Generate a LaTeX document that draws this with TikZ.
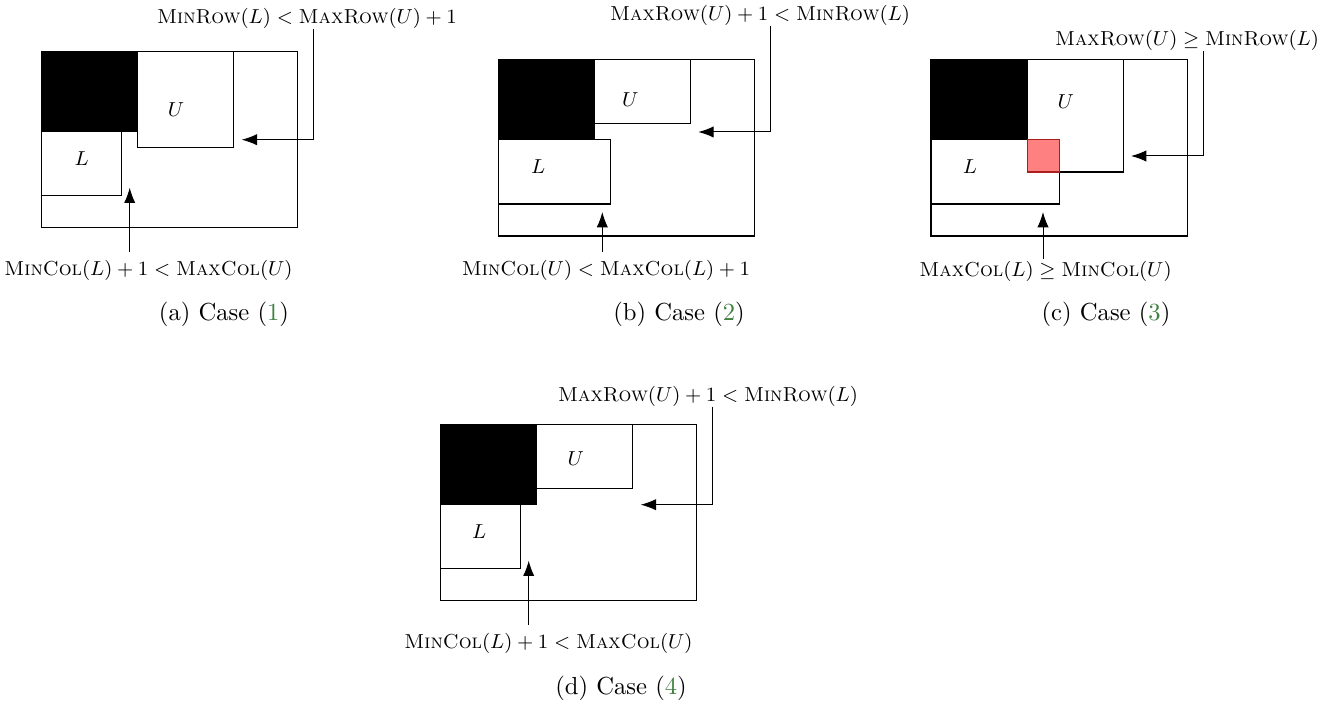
\documentclass[tikz,border=0pt]{standalone}
\usetikzlibrary{arrows.meta}
\definecolor{caseGreen}{RGB}{64,128,64}
\definecolor{hotFill}{RGB}{255,128,128}
\definecolor{hotDraw}{RGB}{170,30,30}
\begin{document}
\begin{tikzpicture}[x=0.015625cm,y=-0.015625cm,
  box/.style={draw=black, line width=0.45pt},
  blk/.style={fill=black, draw=black, line width=0.45pt},
  hot/.style={fill=hotFill, draw=hotDraw, line width=0.45pt},
  lbl/.style={font=\fontsize{9}{11}\selectfont, inner sep=0pt},
  var/.style={font=\fontsize{9}{11}\selectfont, inner sep=0pt},
  capstyle/.style={font=\fontsize{10.95}{13.6}\selectfont, inner sep=0pt},
  arr/.style={-{Latex[length=6.8pt,width=5pt]}, line width=0.45pt}]
\useasboundingbox (0,0) rectangle (1338,704);

% ---------- panel (a)
\begin{scope}[shift={(41.7,51.7)},x=0.25cm,y=-0.25cm]
  \draw[box] (0,0) rectangle (16,11);
  \draw[blk] (0,0) rectangle (6,5);
  \draw[box] (6,0) rectangle (12,6);
  \draw[box] (0,5) rectangle (5,9);
  \node[var] (Ua) at (8.4,3.6) {$U$};
  \node[var] (La) at (2.5,6.7) {$L$};
  \coordinate (ta) at (17,0);
  \coordinate (ha) at (12.5,5.5);
  \coordinate (ba) at (5.5,0);
  \coordinate (ga) at (5.5,8.5);
\end{scope}
\node[lbl, anchor=south] (topa) at (307,29) {$\textsc{MinRow}(L) < \textsc{MaxRow}(U)+1$};
\node[lbl, anchor=north, outer ysep=3.5pt] (bota) at (148.5,252) {$\textsc{MinCol}(L)+1 < \textsc{MaxCol}(U)$};
\draw[arr] (topa.south -| ta) |- (ha);
\draw[arr] (bota.north -| ba) -- (ga);
\node[capstyle] (capa) at (224,314) {(a) Case ({\color{caseGreen}1})};

% ---------- panel (b)
\begin{scope}[shift={(498.3,60)},x=0.25cm,y=-0.25cm]
  \draw[box] (0,0) rectangle (16,11);
  \draw[blk] (0,0) rectangle (6,5);
  \draw[box] (6,0) rectangle (12,4);
  \draw[box] (0,5) rectangle (7,9);
  \node[var] (Ub) at (8.25,2.5) {$U$};
  \node[var] (Lb) at (2.5,6.67) {$L$};
  \coordinate (tb) at (17,0);
  \coordinate (hb) at (12.5,4.5);
  \coordinate (bb) at (6.5,0);
  \coordinate (gb) at (6.5,9.5);
\end{scope}
\node[lbl, anchor=south] (topb) at (760,26) {$\textsc{MaxRow}(U)+1 < \textsc{MinRow}(L)$};
\node[lbl, anchor=north, outer ysep=3.5pt] (botb) at (606,252) {$\textsc{MinCol}(U) < \textsc{MaxCol}(L)+1$};
\draw[arr] (topb.south -| tb) |- (hb);
\draw[arr] (botb.north -| bb) -- (gb);
\node[capstyle] (capb) at (679,314) {(b) Case ({\color{caseGreen}2})};

% ---------- panel (c)
\begin{scope}[shift={(931,60)},x=0.25cm,y=-0.25cm]
  \draw[box] (0,0) rectangle (16,11);
  \draw[blk] (0,0) rectangle (6,5);
  \draw[box] (6,0) rectangle (12,7);
  \draw[box] (0,5) rectangle (8,9);
  \draw[hot] (6,5) rectangle (8,7);
  \node[var] (Uc) at (8.42,2.6) {$U$};
  \node[var] (Lc) at (2.44,6.67) {$L$};
  \coordinate (tc) at (17,0);
  \coordinate (hc) at (12.5,6);
  \coordinate (bc) at (7,0);
  \coordinate (gc) at (7,9.5);
\end{scope}
\node[lbl, anchor=south] (topc) at (1187,51) {$\textsc{MaxRow}(U) \geq \textsc{MinRow}(L)$};
\node[lbl, anchor=north, outer ysep=1pt] (botc) at (1045.5,259) {$\textsc{MaxCol}(L) \geq \textsc{MinCol}(U)$};
\draw[arr] (topc.south -| tc) |- (hc);
\draw[arr] (botc.north -| bc) -- (gc);
\node[capstyle] (capc) at (1106,314) {(c) Case ({\color{caseGreen}3})};

% ---------- panel (d)
\begin{scope}[shift={(440.7,424.7)},x=0.25cm,y=-0.25cm]
  \draw[box] (0,0) rectangle (16,11);
  \draw[blk] (0,0) rectangle (6,5);
  \draw[box] (6,0) rectangle (12,4);
  \draw[box] (0,5) rectangle (5,9);
  \node[var] (Ud) at (8.44,2.1) {$U$};
  \node[var] (Ld) at (2.41,6.69) {$L$};
  \coordinate (td) at (17,0);
  \coordinate (hd) at (12.5,5);
  \coordinate (bd) at (5.5,0);
  \coordinate (gd) at (5.5,8.5);
\end{scope}
\node[lbl, anchor=south] (topd) at (708,407) {$\textsc{MaxRow}(U)+1 < \textsc{MinRow}(L)$};
\node[lbl, anchor=north, outer ysep=3.5pt] (botd) at (548.5,625) {$\textsc{MinCol}(L)+1 < \textsc{MaxCol}(U)$};
\draw[arr] (topd.south -| td) |- (hd);
\draw[arr] (botd.north -| bd) -- (gd);
\node[capstyle] (capd) at (621,688) {(d) Case ({\color{caseGreen}4})};
\end{tikzpicture}
\end{document}
